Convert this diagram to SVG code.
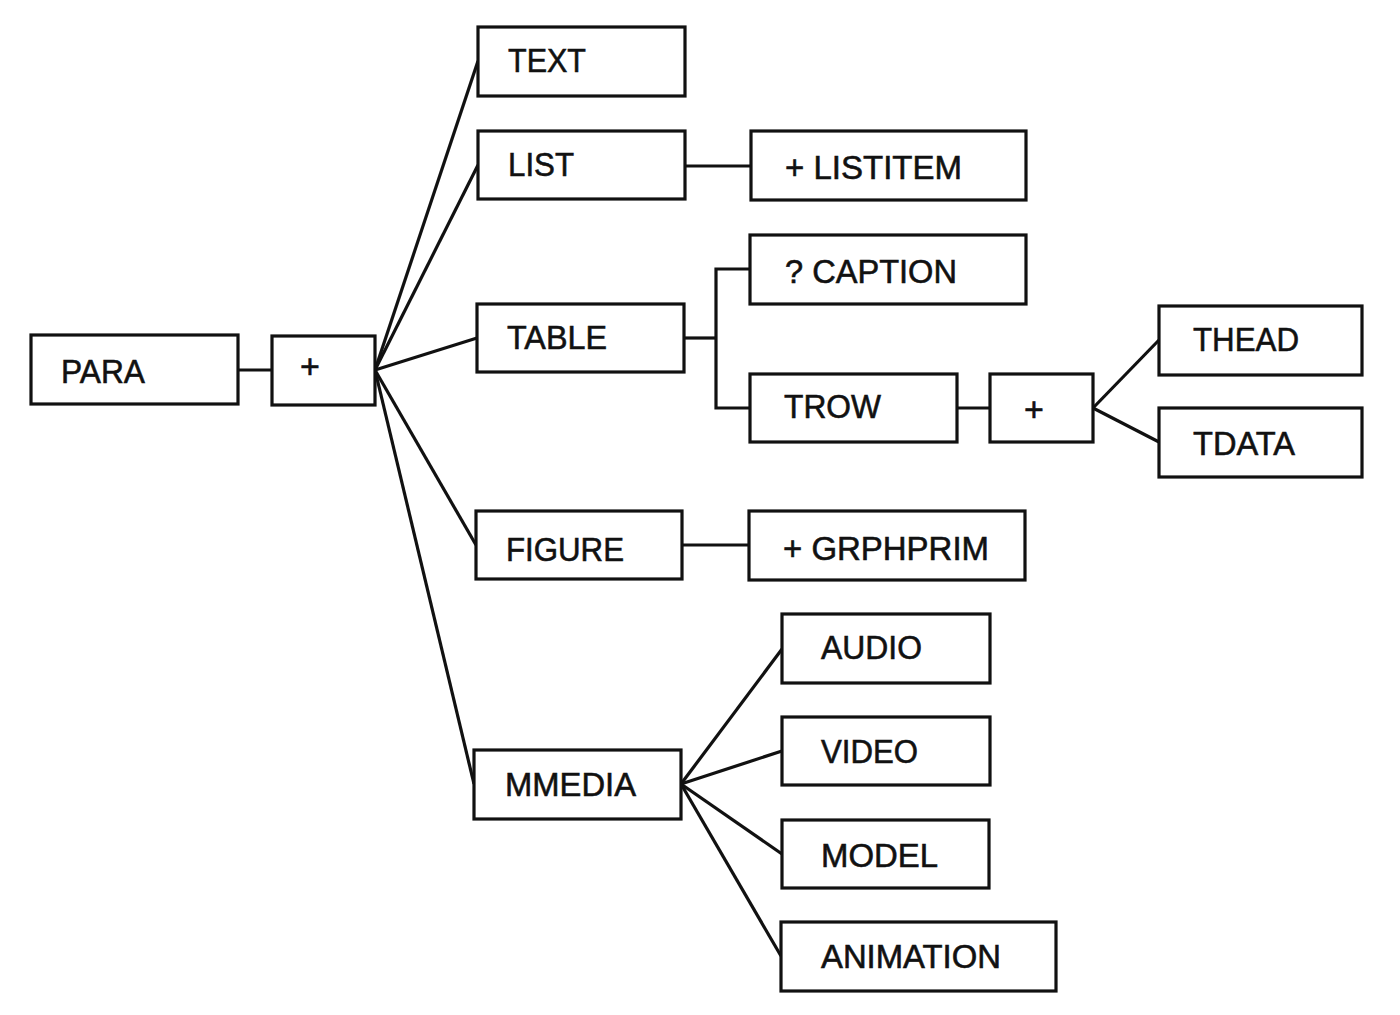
<svg xmlns="http://www.w3.org/2000/svg" width="1400" height="1015" viewBox="0 0 1400 1015">
<style>
.box{fill:#fff;stroke:#111;stroke-width:3.2}
.lbl{font-family:"Liberation Sans",Arial,sans-serif;font-size:34px;fill:#111;stroke:#111;stroke-width:0.6}
.c{fill:none;stroke:#111;stroke-width:3.2}
</style>
<rect width="1400" height="1015" fill="#fff"/>
<g id="connectors">
<line class="c" x1="238" y1="370" x2="272" y2="370"/>
<line class="c" x1="375" y1="370" x2="478" y2="61"/>
<line class="c" x1="375" y1="370" x2="478" y2="165"/>
<line class="c" x1="375" y1="370" x2="477" y2="338"/>
<line class="c" x1="375" y1="370" x2="476" y2="545"/>
<line class="c" x1="375" y1="370" x2="474" y2="784"/>
<line class="c" x1="685" y1="166" x2="751" y2="166"/>
<polyline class="c" points="750,269 716,269 716,408 750,408"/>
<line class="c" x1="684" y1="338" x2="716" y2="338"/>
<line class="c" x1="957" y1="408" x2="990" y2="408"/>
<line class="c" x1="1093" y1="408" x2="1159" y2="340"/>
<line class="c" x1="1093" y1="408" x2="1159" y2="442"/>
<line class="c" x1="682" y1="545" x2="749" y2="545"/>
<line class="c" x1="681" y1="784" x2="782" y2="649"/>
<line class="c" x1="681" y1="784" x2="782" y2="751"/>
<line class="c" x1="681" y1="784" x2="782" y2="854"/>
<line class="c" x1="681" y1="784" x2="781" y2="956"/>
</g>
<g id="para"><rect class="box" x="31" y="335" width="207" height="69"/><text class="lbl" x="61" y="383" textLength="84" lengthAdjust="spacingAndGlyphs">PARA</text></g>
<g id="plus1"><rect class="box" x="272" y="336" width="103" height="69"/><text class="lbl" x="310" y="378" text-anchor="middle">+</text></g>
<g id="text"><rect class="box" x="478" y="27" width="207" height="69"/><text class="lbl" x="508" y="72" textLength="78" lengthAdjust="spacingAndGlyphs">TEXT</text></g>
<g id="list"><rect class="box" x="478" y="131" width="207" height="68"/><text class="lbl" x="508" y="176" textLength="66" lengthAdjust="spacingAndGlyphs">LIST</text></g>
<g id="listitem"><rect class="box" x="751" y="131" width="275" height="69"/><text class="lbl" x="785" y="179" textLength="177" lengthAdjust="spacingAndGlyphs">+ LISTITEM</text></g>
<g id="caption"><rect class="box" x="750" y="235" width="276" height="69"/><text class="lbl" x="785" y="283" textLength="172" lengthAdjust="spacingAndGlyphs">? CAPTION</text></g>
<g id="table"><rect class="box" x="477" y="304" width="207" height="68"/><text class="lbl" x="507" y="349" textLength="100" lengthAdjust="spacingAndGlyphs">TABLE</text></g>
<g id="trow"><rect class="box" x="750" y="374" width="207" height="68"/><text class="lbl" x="784" y="418" textLength="97" lengthAdjust="spacingAndGlyphs">TROW</text></g>
<g id="plus2"><rect class="box" x="990" y="374" width="103" height="68"/><text class="lbl" x="1034" y="421" text-anchor="middle">+</text></g>
<g id="thead"><rect class="box" x="1159" y="306" width="203" height="69"/><text class="lbl" x="1193" y="351" textLength="106" lengthAdjust="spacingAndGlyphs">THEAD</text></g>
<g id="tdata"><rect class="box" x="1159" y="408" width="203" height="69"/><text class="lbl" x="1193" y="455" textLength="102" lengthAdjust="spacingAndGlyphs">TDATA</text></g>
<g id="figure"><rect class="box" x="476" y="511" width="206" height="68"/><text class="lbl" x="506" y="561" textLength="118" lengthAdjust="spacingAndGlyphs">FIGURE</text></g>
<g id="grphprim"><rect class="box" x="749" y="511" width="276" height="69"/><text class="lbl" x="783" y="560" textLength="206" lengthAdjust="spacingAndGlyphs">+ GRPHPRIM</text></g>
<g id="audio"><rect class="box" x="782" y="614" width="208" height="69"/><text class="lbl" x="821" y="659" textLength="101" lengthAdjust="spacingAndGlyphs">AUDIO</text></g>
<g id="video"><rect class="box" x="782" y="717" width="208" height="68"/><text class="lbl" x="821" y="763" textLength="97" lengthAdjust="spacingAndGlyphs">VIDEO</text></g>
<g id="mmedia"><rect class="box" x="474" y="750" width="207" height="69"/><text class="lbl" x="505" y="796" textLength="131" lengthAdjust="spacingAndGlyphs">MMEDIA</text></g>
<g id="model"><rect class="box" x="782" y="820" width="207" height="68"/><text class="lbl" x="821" y="867" textLength="117" lengthAdjust="spacingAndGlyphs">MODEL</text></g>
<g id="animation"><rect class="box" x="781" y="922" width="275" height="69"/><text class="lbl" x="821" y="968" textLength="180" lengthAdjust="spacingAndGlyphs">ANIMATION</text></g>
</svg>
